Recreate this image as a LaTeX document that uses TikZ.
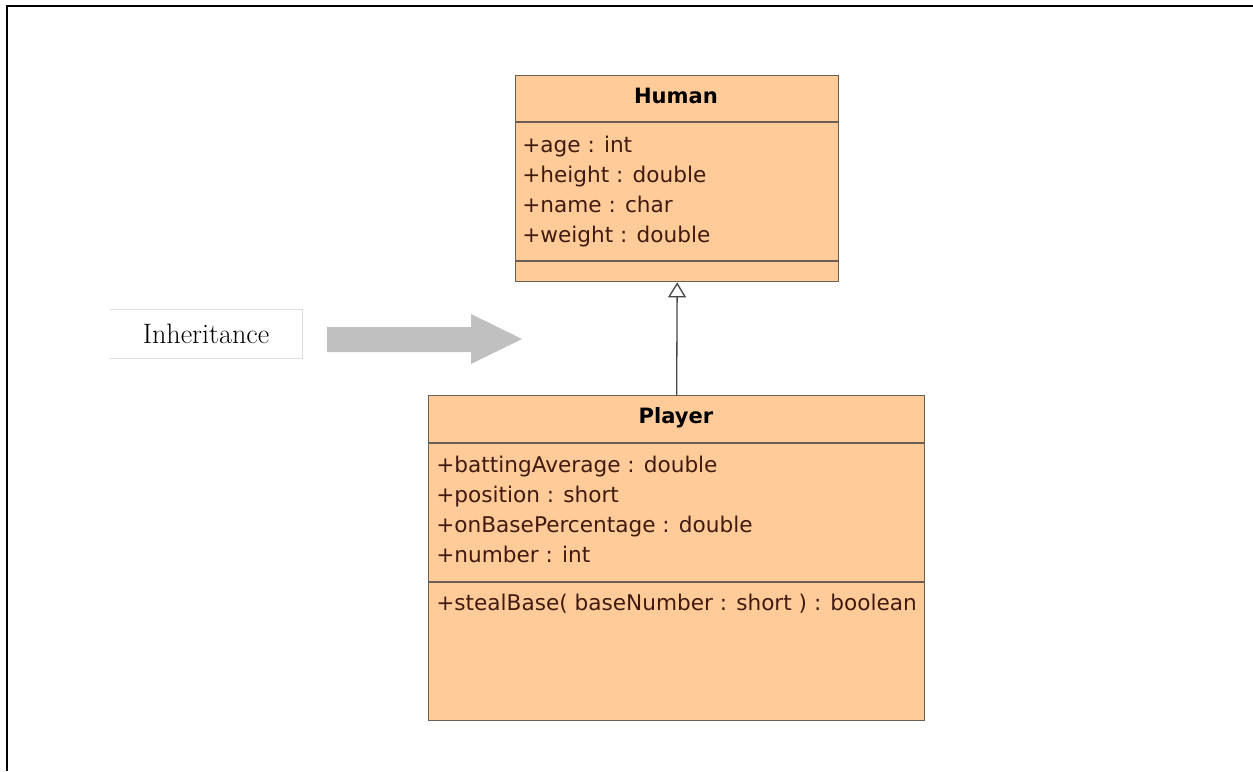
\documentclass[tikz,border=0pt]{standalone}
\usepackage{fontspec}
\usepackage{tikz}
\usetikzlibrary{arrows.meta}
\newfontfamily\umlfont{DejaVu Sans}
\definecolor{boxfill}{RGB}{255,204,153}
\definecolor{boxline}{RGB}{105,95,85}
\definecolor{attrtext}{RGB}{65,25,15}
\definecolor{bigarrow}{RGB}{192,192,192}
\definecolor{faintline}{RGB}{222,222,222}
\tikzset{
  umlbox/.style={draw=boxline, fill=boxfill, line width=0.8pt, inner sep=0pt, anchor=north west},
  umltitle/.style={font=\umlfont\bfseries\fontsize{12}{15}\selectfont, anchor=base, inner sep=0pt},
  umlattr/.style={font=\umlfont\fontsize{12.3}{17.07}\selectfont, text=attrtext, align=left, anchor=base west, inner sep=0pt},
  inherit/.style={draw={rgb,255:red,70;green,70;blue,70}, line width=0.75pt, -{Triangle[open, length=0.3cm, width=0.36cm]}}
}
\begin{document}
\begin{tikzpicture}[x=0.02cm, y=-0.02cm]
\useasboundingbox (0,0) rectangle (1253,771);
% frame
\draw [line width=1.4pt] (7,771) -- (7,6) -- (1253,6);
% label and gray arrow
\node [minimum width=3.84cm, minimum height=0.96cm, inner sep=0pt, font=\fontsize{16}{19}\selectfont] (inh) at (206,334) {Inheritance};
\draw [faintline] (inh.north west) -- (inh.north east) -- (inh.south east) -- (inh.south west);
\fill [bigarrow] (327,327) -- (471,327) -- (471,314) -- (522,339) -- (471,364) -- (471,352) -- (327,352) -- cycle;
% Human (attribute nodes placed by the baseline of their last line)
\node [umlbox, minimum width=6.46cm, minimum height=4.12cm] (human) at (515,75) {};
\draw [boxline, line width=0.8pt] (human.west |- 0,122) -- (human.east |- 0,122);
\draw [boxline, line width=0.8pt] (human.west |- 0,261) -- (human.east |- 0,261);
\node [umltitle] (humantitle) at (676,103) {Human};
\node [umlattr] (humanattr) at (522,242) {+age : int\\+height : double\\+name : char\\+weight : double};
% Player
\node [umlbox, minimum width=9.92cm, minimum height=6.5cm] (player) at (428,395) {};
\draw [boxline, line width=0.8pt] (player.west |- 0,443) -- (player.east |- 0,443);
\draw [boxline, line width=0.8pt] (player.west |- 0,582) -- (player.east |- 0,582);
\node [umltitle] (playertitle) at (676,423) {Player};
\node [umlattr] (playerattr) at (436,562) {+battingAverage : double\\+position : short\\+onBasePercentage : double\\+number : int};
\node [umlattr] (playerops) at (436,610) {+stealBase( baseNumber : short ) : boolean};
% generalization
\draw [inherit] (player.north) -- (human.south);
\end{tikzpicture}
\end{document}
